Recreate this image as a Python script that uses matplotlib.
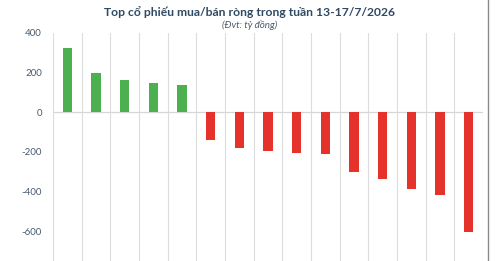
import numpy as np
import matplotlib.pyplot as plt
from matplotlib.lines import Line2D

# net buy (+) / net sell (-) values, ty dong
buy_values = [326, 200, 162, 147, 137]
sell_values = [-142, -181, -195, -208, -210, -303, -337, -389, -416, -606]
y_ticks = [400, 200, 0, -200, -400, -600]

values = buy_values + sell_values
x = np.arange(len(values))
colors = ['#4CAF50' if v > 0 else '#E5322A' for v in values]

fig = plt.figure(figsize=(4.97, 2.61), dpi=100)
ax = fig.add_axes([53/497, 0, 430/497, 1 - 33/261])

ax.bar(x, values, width=0.33, color=colors, zorder=3)

ax.set_xlim(-0.5, len(values) - 0.5)
ax.set_ylim(-751, 400)
ax.set_yticks(y_ticks)
ax.set_yticklabels([str(t) for t in y_ticks], fontsize=7, color='#4A5B6E', family='Lato')
ax.tick_params(axis='y', length=0, pad=8)
ax.set_xticks([])

# vertical grid between categories
for b in np.arange(-0.5, len(values), 1.0):
    ax.axvline(b, color='#DCDCDC', lw=0.8, zorder=1)
ax.axhline(0, color='#D6D6D6', lw=0.9, zorder=2)

for s in ax.spines.values():
    s.set_visible(False)

fig.text(0.503, 0.954, 'Top cổ phiếu mua/bán ròng trong tuần 13-17/7/2026',
         ha='center', va='center', fontsize=8.7, fontweight='bold',
         color='#2F4A63', family='Lato')
fig.text(0.503, 0.904, '(Đvt: tỷ đồng)', ha='center', va='center',
         fontsize=7, style='italic', color='#4A5B6E', family='Lato')

fig.add_artist(Line2D([488/497, 488/497], [0, 1], color='#8A8A8A', lw=1,
                      transform=fig.transFigure))

fig.savefig('out.png', dpi=100)
